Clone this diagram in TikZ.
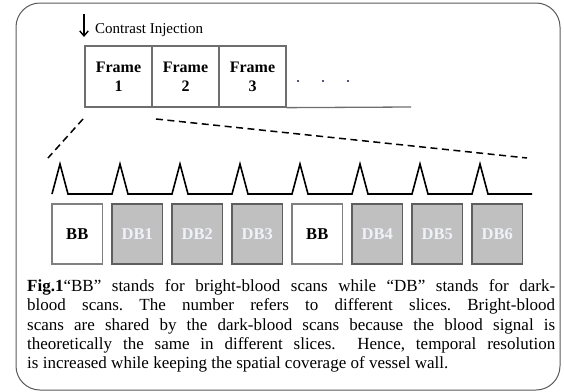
\documentclass[tikz,border=0pt]{standalone}
\usepackage{fontspec}
\setmainfont{Liberation Serif}
\usetikzlibrary{arrows.meta}
\definecolor{outerc}{HTML}{5A5A5A}
\definecolor{cellc}{HTML}{6E6E6E}
\definecolor{bbline}{HTML}{808080}
\definecolor{dbline}{HTML}{5E5E5E}
\definecolor{dbfill}{HTML}{C0C0C0}
\definecolor{dbtext}{HTML}{F0F2FA}
\definecolor{dotc}{HTML}{1A1A50}
\begin{document}
\begin{tikzpicture}[x=1pt,y=-1pt,
  outer/.style={draw=outerc, line width=1pt, rounded corners=24pt},
  cell/.style={draw=cellc, line width=1.3pt, minimum width=67pt, minimum height=61pt,
    inner sep=0pt, align=center, font=\fontsize{16}{19}\selectfont\bfseries},
  scanbox/.style={line width=1.3pt, minimum width=50.5pt, minimum height=60pt,
    inner sep=0pt, font=\fontsize{16.5}{19}\selectfont\bfseries},
  bbbox/.style={scanbox, draw=bbline, fill=white, text=black},
  dbbox/.style={scanbox, draw=dbline, fill=dbfill, text=dbtext},
  zoomline/.style={line width=1.5pt, dash pattern=on 7pt off 4.5pt},
  pulse/.style={line width=1.6pt, line join=miter},
  dotnode/.style={circle, fill=dotc, inner sep=0pt, minimum size=2.4pt},
]
\useasboundingbox (0,0) rectangle (564,391);
% outer rounded frame
\draw[outer] (16,3) rectangle (560,390);

% contrast injection arrow
\coordinate (injtop) at (84,14);
\node[anchor=base west, inner sep=0pt, font=\fontsize{15}{18}\selectfont] (inj) at (95,33) {Contrast Injection};
\coordinate (injbot) at (84,37);
\draw[line width=1.4pt, -{Straight Barb[length=5pt,width=8.5pt,line width=1.4pt]}] (injtop) -- (injbot);

% frames
\node[cell] (f1) at (118.5,76.5) {Frame\\1};
\node[cell] (f2) at (185.5,76.5) {Frame\\2};
\node[cell] (f3) at (252.5,76.5) {Frame\\3};
\coordinate (fend) at (411,107);
\draw[draw=cellc, line width=1.3pt] (f3.south east) -- (fend);
\node[dotnode] (d1) at (298,81) {};
\node[dotnode] (d2) at (323,81) {};
\node[dotnode] (d3) at (348,81) {};

% zoom lines
\coordinate (zl1) at (83,119);
\coordinate (zl2) at (48,158);
\coordinate (zr1) at (156,119);
\coordinate (zr2) at (527,158);
\draw[zoomline] (zl1) -- (zl2);
\draw[zoomline] (zr1) -- (zr2);

% pulse train
\draw[pulse] (52,194) foreach \i in {0,...,7}{ -- ({60+60*\i},164) -- ({68+60*\i},194) -- ({112+60*\i},194)};

% scan boxes
\node[bbbox] (s1) at (77.25,234) {BB};
\node[dbbox] (s2) at (137.25,234) {DB1};
\node[dbbox] (s3) at (197.25,234) {DB2};
\node[dbbox] (s4) at (257.25,234) {DB3};
\node[bbbox] (s5) at (317.25,234) {BB};
\node[dbbox] (s6) at (377.25,234) {DB4};
\node[dbbox] (s7) at (437.25,234) {DB5};
\node[dbbox] (s8) at (497.25,234) {DB6};

% caption
\node[anchor=base west, inner sep=0pt, text width=528pt, align=justify,
  font=\fontsize{17}{19.25}\selectfont\frenchspacing] (cap) at (27,291.6)
{\textbf{Fig.1}“BB” stands for bright-blood scans while “DB” stands for dark-\linebreak
blood scans. The number refers to different slices. Bright-blood\linebreak
scans are shared by the dark-blood scans because the blood signal is\linebreak
theoretically the same in different slices.~ Hence, temporal resolution\linebreak
is increased while keeping the spatial coverage of vessel wall.};
\end{tikzpicture}
\end{document}
